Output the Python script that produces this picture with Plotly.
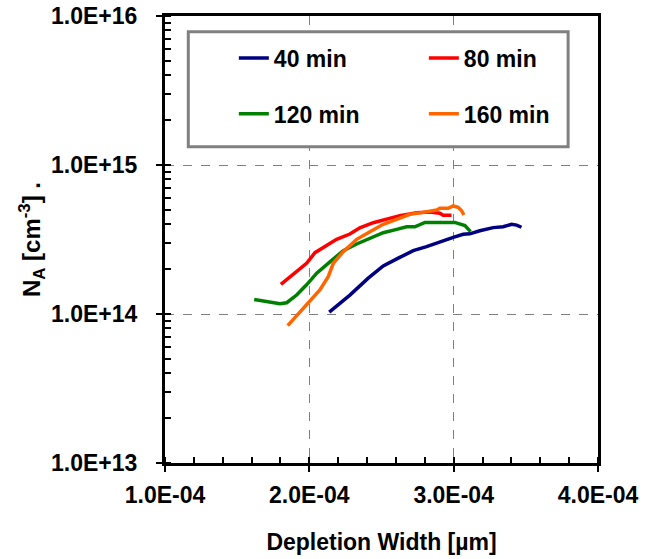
import plotly.graph_objects as go

# ---- data (x in µm, y in cm^-3) ----
x_40 = [2.138e-4, 2.281e-4, 2.408e-4, 2.512e-4, 2.616e-4, 2.720e-4, 2.812e-4, 2.904e-4,
        2.997e-4, 3.066e-4, 3.112e-4, 3.181e-4, 3.274e-4, 3.343e-4, 3.401e-4, 3.436e-4, 3.470e-4]
y_40 = [1.03e14, 1.34e14, 1.74e14, 2.10e14, 2.37e14, 2.66e14, 2.83e14, 3.06e14,
        3.27e14, 3.43e14, 3.45e14, 3.62e14, 3.80e14, 3.85e14, 4.00e14, 3.95e14, 3.82e14]

x_80 = [1.803e-4, 1.889e-4, 1.981e-4, 2.039e-4, 2.108e-4, 2.189e-4, 2.281e-4, 2.350e-4,
        2.443e-4, 2.535e-4, 2.627e-4, 2.743e-4, 2.835e-4, 2.904e-4, 2.927e-4, 2.985e-4]
y_80 = [1.58e14, 1.85e14, 2.19e14, 2.58e14, 2.83e14, 3.17e14, 3.44e14, 3.79e14,
        4.10e14, 4.32e14, 4.57e14, 4.79e14, 4.84e14, 4.75e14, 4.60e14, 4.60e14]

x_120 = [1.618e-4, 1.796e-4, 1.843e-4, 1.912e-4, 1.981e-4, 2.051e-4, 2.143e-4, 2.235e-4,
         2.328e-4, 2.420e-4, 2.512e-4, 2.605e-4, 2.674e-4, 2.731e-4, 2.801e-4, 2.904e-4,
         3.008e-4, 3.078e-4, 3.117e-4]
y_120 = [1.25e14, 1.17e14, 1.19e14, 1.34e14, 1.57e14, 1.88e14, 2.24e14, 2.66e14,
         2.95e14, 3.22e14, 3.51e14, 3.70e14, 3.85e14, 3.85e14, 4.12e14, 4.12e14,
         4.12e14, 3.92e14, 3.57e14]

x_160 = [1.850e-4, 1.935e-4, 2.004e-4, 2.073e-4, 2.131e-4, 2.166e-4, 2.235e-4, 2.328e-4,
         2.420e-4, 2.512e-4, 2.605e-4, 2.697e-4, 2.789e-4, 2.882e-4, 2.904e-4, 2.962e-4,
         2.997e-4, 3.031e-4, 3.055e-4, 3.071e-4]
y_160 = [8.35e13, 1.03e14, 1.21e14, 1.45e14, 1.78e14, 2.19e14, 2.62e14, 3.17e14,
         3.57e14, 4.00e14, 4.32e14, 4.67e14, 4.81e14, 4.99e14, 5.12e14, 5.12e14,
         5.31e14, 5.20e14, 4.93e14, 4.62e14]

series_names = ["40 min", "80 min", "120 min", "160 min"]
series_colors = ["#000080", "#FF0000", "#008000", "#FF6600"]

x_tickvals = [1e-4, 2e-4, 3e-4, 4e-4]
x_ticktext = ["1.0E-04", "2.0E-04", "3.0E-04", "4.0E-04"]
y_tickvals = [1e13, 1e14, 1e15, 1e16]
y_ticktext = ["1.0E+13", "1.0E+14", "1.0E+15", "1.0E+16"]

FONT = "Arial, Liberation Sans, sans-serif"

fig = go.Figure()
xs = [x_40, x_80, x_120, x_160]
ys = [y_40, y_80, y_120, y_160]
legends = ["legend", "legend", "legend2", "legend2"]
for name, col, xv, yv, lg in zip(series_names, series_colors, xs, ys, legends):
    fig.add_trace(go.Scatter(x=xv, y=yv, mode="lines", name=name,
                             line=dict(color=col, width=3.5), legend=lg))

leg_common = dict(orientation="h", xanchor="left", yanchor="middle",
                  bgcolor="rgba(0,0,0,0)", borderwidth=0,
                  entrywidth=145, entrywidthmode="pixels",
                  font=dict(family=FONT, size=23, color="black", weight="bold"))

fig.update_layout(
    width=656, height=559,
    margin=dict(l=165, r=58, t=16, b=96, autoexpand=False),
    paper_bgcolor="white", plot_bgcolor="white",
    font=dict(family=FONT, color="black"),
    legend=dict(x=0.159, y=0.906, **leg_common),
    legend2=dict(x=0.159, y=0.781, **leg_common),
    shapes=[dict(type="rect", xref="paper", yref="paper",
                 x0=0.0538, x1=0.931, y0=0.7076, y1=0.965,
                 line=dict(color="#808080", width=3), fillcolor="white",
                 layer="above")],
)

fig.update_xaxes(
    range=[1e-4, 4e-4], tickvals=x_tickvals, ticktext=x_ticktext,
    automargin=False,
    showline=True, linecolor="black", linewidth=3, mirror=True,
    ticks="outside", ticklen=6, tickwidth=2, tickcolor="black",
    ticklabelstandoff=3,
    tickfont=dict(family=FONT, size=23, color="black", weight="bold"),
    showgrid=True, gridcolor="#808080", gridwidth=1, griddash="dash",
    zeroline=False,
    minor=dict(dtick=0.2e-4, ticks="inside", ticklen=6, tickwidth=2,
               tickcolor="black", showgrid=False),
    title=dict(text="Depletion Width [µm]", standoff=28,
               font=dict(family=FONT, size=23, color="black", weight="bold")),
)

fig.update_yaxes(
    type="log", range=[13, 16], tickvals=y_tickvals, ticktext=y_ticktext,
    automargin=False,
    showline=True, linecolor="black", linewidth=3, mirror=True,
    ticks="outside", ticklen=6, tickwidth=2, tickcolor="black",
    ticklabelstandoff=14,
    tickfont=dict(family=FONT, size=23, color="black", weight="bold"),
    showgrid=True, gridcolor="#808080", gridwidth=1, griddash="dash",
    zeroline=False,
    minor=dict(dtick="D1", ticks="inside", ticklen=6, tickwidth=2,
               tickcolor="black", showgrid=False),
    title=dict(text="N<sub>A</sub> [cm<sup>-3</sup>] .", standoff=4,
               font=dict(family=FONT, size=24, color="black", weight="bold")),
)

fig.write_html("out.html", config={"displayModeBar": False},
               post_script="document.body.style.margin='0';document.body.style.overflow='hidden';")
